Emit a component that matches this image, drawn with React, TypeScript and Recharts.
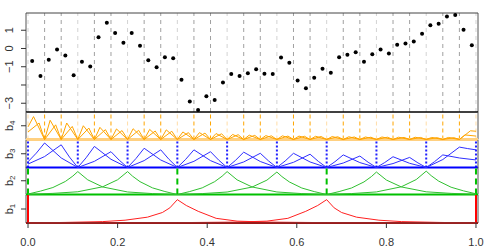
import React from 'react';
import { ComposedChart, Line, Scatter, XAxis, YAxis, ReferenceLine } from 'recharts';

const X0 = -0.0045;
const X1 = 1.0045;
const FONT = '"Liberation Sans", Arial, Helvetica, sans-serif';
const AXIS = '#333333';

// observed values, one per x position (i + 0.5) / 54
const obsY = [
  -0.68, -1.51, -0.61, -0.05, -0.39, -1.47, -0.72, -0.98, 0.61, 1.41,
  0.85, 0.32, 0.85, 0.15, -0.65, -1.03, -0.48, -0.54, -1.71, -2.91,
  -3.37, -2.62, -2.82, -1.87, -1.4, -1.51, -1.36, -1.14, -1.38, -1.4,
  -0.5, -0.78, -1.76, -2.18, -1.6, -1.11, -1.33, -0.48, -0.34, -0.21,
  -0.72, -0.32, -0.05, -0.28, 0.21, 0.28, 0.39, 0.81, 1.27, 1.36,
  1.76, 1.84, 1.03, 0.18,
];
const topTicks = [1, 0, -1, -2, -3];
const topTickLabels = ['1', '0', '\u22121', '', '\u22123'];
const xTicks = [0, 0.2, 0.4, 0.6, 0.8, 1];

// peak heights of the basis functions, per knot interval
// "A" peaks at 1/3 of the interval, "B" at 2/3
const b4PeakA = [1.0, 0.84, 0.72, 0.6, 0.53, 0.46, 0.47, 0.44, 0.42, 0.33, 0.3, 0.26, 0.22, 0.19, 0.17, 0.16, 0.15, 0.14, 0.13, 0.12, 0.11, 0.11, 0.1, 0.1, 0.09, 0.09, 0.2];
const b4PeakB = [0.72, 0.64, 0.57, 0.5, 0.43, 0.39, 0.4, 0.37, 0.36, 0.3, 0.28, 0.25, 0.21, 0.18, 0.16, 0.15, 0.14, 0.13, 0.12, 0.11, 0.1, 0.1, 0.09, 0.09, 0.08, 0.08, 0.38];
const b3PeakA = [1.07, 0.92, 0.84, 0.77, 0.67, 0.62, 0.55, 0.47, 0.55];
const b3PeakB = [0.99, 0.69, 0.77, 0.69, 0.62, 0.58, 0.5, 0.44, 0.89];
const b2PeakA = [1.0, 1.0, 0.98];
const b2PeakB = [1.0, 0.98, 1.02];
const b1PeakA = [1.0];
const b1PeakB = [1.0];

// values at x = 0 and x = 1 (boundary intervals)
const b4Ends = { startA: 0.55, startB: 0.33, endA: 0.15, endB: 0.36 };
const b3Ends = { startA: 0.25, startB: 0.15, endA: 0.33, endB: 0.77 };
const b2Ends = { startA: 0.02, startB: 0.01, endA: 0.01, endB: 0.03 };
const b1Ends = { startA: 0, startB: 0, endA: 0, endB: 0 };

// side shapes: fraction of the way from knot to peak -> fraction of peak
const linT = [0, 1];
const linV = [0, 1];
const b3NearT = [0, 0.5, 1];
const b3NearV = [0, 0.46, 1];
const b3FarT = [0, 0.5, 1];
const b3FarV = [0, 0.39, 1];
const b2NearT = [0, 0.25, 0.5, 0.75, 0.9, 1];
const b2NearV = [0, 0.13, 0.29, 0.56, 0.8, 1];
const b2FarT = [0, 0.25, 0.5, 0.75, 0.9, 1];
const b2FarV = [0, 0.04, 0.11, 0.33, 0.64, 1];
const b1NearT = [0, 0.25, 0.5, 0.65, 0.8, 0.9, 0.95, 1];
const b1NearV = [0, 0.025, 0.06, 0.12, 0.25, 0.45, 0.65, 1];
const b1FarT = [0, 0.25, 0.5, 0.7, 0.8, 0.87, 0.93, 0.97, 1];
const b1FarV = [0, 0.005, 0.015, 0.04, 0.08, 0.2, 0.5, 0.75, 1];

type Pt = { x: number; y: number };
type Level = {
  n: number;
  peakA: number[];
  peakB: number[];
  ends: { startA: number; startB: number; endA: number; endB: number };
  nearT: number[];
  nearV: number[];
  farT: number[];
  farV: number[];
};

function buildSeries(lv: Level, which: 'A' | 'B'): Pt[] {
  const pts: Pt[] = [];
  const L = 1 / lv.n;
  for (let k = 0; k < lv.n; k++) {
    const a = k * L;
    const b = a + L;
    const peak = (which === 'A' ? lv.peakA : lv.peakB)[k];
    const c = which === 'A' ? a + L / 3 : a + (2 * L) / 3;
    const lT = which === 'A' ? lv.nearT : lv.farT;
    const lV = which === 'A' ? lv.nearV : lv.farV;
    const rT = which === 'A' ? lv.farT : lv.nearT;
    const rV = which === 'A' ? lv.farV : lv.nearV;
    const lo = k === 0 ? (which === 'A' ? lv.ends.startA : lv.ends.startB) : 0;
    const hi = k === lv.n - 1 ? (which === 'A' ? lv.ends.endA : lv.ends.endB) : 0;
    for (let j = 0; j < lT.length; j++) {
      if (k > 0 && j === 0) continue;
      pts.push({ x: a + (c - a) * lT[j], y: lo + (peak - lo) * lV[j] });
    }
    for (let j = rT.length - 2; j >= 0; j--) {
      pts.push({ x: b - (b - c) * rT[j], y: hi + (peak - hi) * rV[j] });
    }
  }
  return pts;
}

const levels: Record<string, Level> = {
  b4: { n: 27, peakA: b4PeakA, peakB: b4PeakB, ends: b4Ends, nearT: linT, nearV: linV, farT: linT, farV: linV },
  b3: { n: 9, peakA: b3PeakA, peakB: b3PeakB, ends: b3Ends, nearT: b3NearT, nearV: b3NearV, farT: b3FarT, farV: b3FarV },
  b2: { n: 3, peakA: b2PeakA, peakB: b2PeakB, ends: b2Ends, nearT: b2NearT, nearV: b2NearV, farT: b2FarT, farV: b2FarV },
  b1: { n: 1, peakA: b1PeakA, peakB: b1PeakB, ends: b1Ends, nearT: b1NearT, nearV: b1NearV, farT: b1FarT, farV: b1FarV },
};

const obsData = obsY.map((y, i) => ({ x: (i + 0.5) / 54, y }));
const knots27 = Array.from({ length: 28 }, (_, i) => i);
const knots9 = Array.from({ length: 10 }, (_, i) => i / 9);
const knots3 = [0, 1 / 3, 2 / 3, 1];

const TopTick = (props: any) => {
  const idx = topTicks.indexOf(props.payload.value);
  const label = topTickLabels[idx];
  if (!label) return null;
  return (
    <text
      transform={`translate(9, ${props.y}) rotate(-90)`}
      textAnchor="middle"
      dominantBaseline="central"
      fontSize={11}
      fontFamily={FONT}
      fill={AXIS}
    >
      {label}
    </text>
  );
};

const makeBTick = (sub: string) => (props: any) => (
  <text
    transform={`translate(9, ${props.y}) rotate(-90)`}
    textAnchor="middle"
    dominantBaseline="central"
    fontSize={11}
    fontFamily={FONT}
    fill={AXIS}
  >
    b<tspan fontSize={8} dy={3}>{sub}</tspan>
  </text>
);

const XTick = (props: any) => (
  <text
    x={props.x}
    y={props.y + 12}
    textAnchor="middle"
    dominantBaseline="central"
    fontSize={11}
    fontFamily={FONT}
    fill={AXIS}
  >
    {props.payload.value.toFixed(1)}
  </text>
);

const Borders = () => null;

interface PanelProps {
  name: string;
  color: string;
  base: string;
  baseWidth: number;
  top: number;
  plotH: number;
  knots: number[];
  knotColor: (i: number) => string;
  knotDash?: string;
  knotWidth: number;
  showX?: boolean;
}

const Panel: React.FC<PanelProps> = (p) => {
  const lv = levels[p.name];
  const sA = buildSeries(lv, 'A');
  const sB = buildSeries(lv, 'B');
  const xH = p.showX ? 26.5 : 0;
  const h = 5 + p.plotH + (p.showX ? xH : 5);
  return (
    <div style={{ position: 'absolute', left: 0, top: p.top - 5 }}>
      <ComposedChart width={498} height={h} margin={{ top: 5, right: 20, bottom: p.showX ? 0 : 5, left: 0 }}>
        <XAxis
          type="number"
          dataKey="x"
          domain={[X0, X1]}
          ticks={xTicks}
          hide={!p.showX}
          height={xH}
          tickSize={5}
          tickLine={{ stroke: AXIS }}
          axisLine={{ stroke: AXIS }}
          tick={<XTick />}
          interval={0}
        />
        <YAxis
          type="number"
          dataKey="y"
          domain={[0, 1.2]}
          ticks={[0.6]}
          width={26}
          tickSize={5}
          axisLine={false}
          tickLine={{ stroke: AXIS }}
          tick={makeBTick(p.name.slice(1))}
        />
        <ReferenceLine x={X0} stroke="#555" />
        <ReferenceLine x={X1} stroke="#555" />
        {p.knots.map((k, i) => (
          <ReferenceLine
            key={i}
            x={k}
            stroke={p.knotColor(i)}
            strokeWidth={p.knotWidth}
            strokeDasharray={p.knotDash}
          />
        ))}
        <ReferenceLine y={0} stroke={p.base} strokeWidth={p.baseWidth} />
        <Line data={sA} dataKey="y" type="linear" stroke={p.color} strokeWidth={1} dot={false} isAnimationActive={false} />
        <Line data={sB} dataKey="y" type="linear" stroke={p.color} strokeWidth={1} dot={false} isAnimationActive={false} />
      </ComposedChart>
    </div>
  );
};

export default function App() {
  return (
    <div style={{ position: 'absolute', left: 0, top: 0, width: 498, height: 249, background: '#fff', overflow: 'hidden' }}>
      <div style={{ position: 'absolute', left: 0, top: 0 }}>
        <ComposedChart width={498} height={117} margin={{ top: 13, right: 20, bottom: 5, left: 0 }}>
          <XAxis type="number" dataKey="x" domain={[X0, X1]} hide />
          <YAxis
            type="number"
            dataKey="y"
            domain={[-3.48, 1.945]}
            ticks={topTicks}
            interval={0}
            width={26}
            tickSize={5}
            axisLine={false}
            tickLine={{ stroke: AXIS }}
            tick={<TopTick />}
          />
          {knots27.map((i) => (
            <ReferenceLine
              key={i}
              x={i / 27}
              stroke={i % 3 === 0 ? '#d3d3d3' : '#a0a0a0'}
              strokeDasharray="4 4"
            />
          ))}
          <ReferenceLine x={X0} stroke="#555" />
          <ReferenceLine x={X1} stroke="#555" />
          <ReferenceLine y={1.945} stroke="#444" />
          <ReferenceLine y={-3.48} stroke="#000" strokeWidth={1.5} />
          <Scatter
            data={obsData}
            fill="#000"
            isAnimationActive={false}
            shape={(s: any) => <circle cx={s.cx} cy={s.cy} r={2} fill="#000" />}
          />
        </ComposedChart>
      </div>
      <Panel
        name="b4"
        color="#FFA500"
        base="#FFD080"
        baseWidth={3}
        top={112}
        plotH={27.5}
        knots={knots27.map((i) => i / 27)}
        knotColor={(i) => (i % 3 === 0 ? '#FFDDA8' : '#FFA500')}
        knotDash="4 3"
        knotWidth={1}
      />
      <Panel
        name="b3"
        color="#3030FF"
        base="#0000FF"
        baseWidth={2}
        top={139.5}
        plotH={27.5}
        knots={knots9}
        knotColor={() => '#2020FF'}
        knotDash="2 2"
        knotWidth={2}
      />
      <Panel
        name="b2"
        color="#30C030"
        base="#00C000"
        baseWidth={2}
        top={167}
        plotH={27.5}
        knots={knots3}
        knotColor={() => '#00C000'}
        knotDash="6 4"
        knotWidth={2}
      />
      <Panel
        name="b1"
        color="#FF2020"
        base="#FF0000"
        baseWidth={2}
        top={194.5}
        plotH={28}
        knots={[0, 1]}
        knotColor={() => '#FF0000'}
        knotWidth={2}
        showX
      />
    </div>
  );
}
